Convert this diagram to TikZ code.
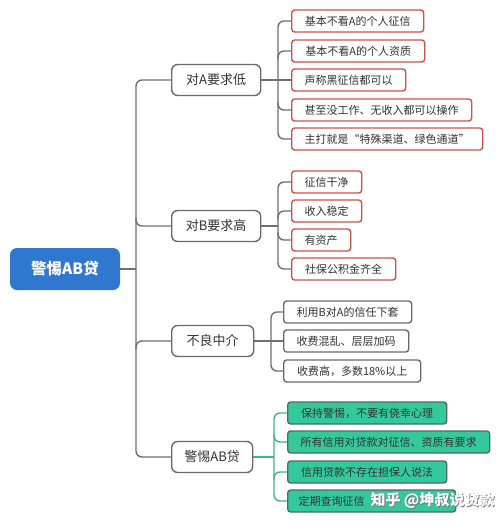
\documentclass[tikz,border=0pt]{standalone}
\usepackage{fontspec}
\setmainfont{Noto Sans CJK SC}
\usetikzlibrary{backgrounds}
\definecolor{linegrey}{HTML}{707070}
\definecolor{boxgrey}{HTML}{6A6A6A}
\definecolor{redb}{HTML}{C9524C}
\definecolor{greenf}{HTML}{34C99C}
\definecolor{greend}{HTML}{4F6A60}
\definecolor{greenl}{HTML}{3DB58C}
\definecolor{rootblue}{HTML}{2F77CF}
\definecolor{txt}{HTML}{333333}
\tikzset{
  conn/.style={draw=linegrey, line width=1.4pt, rounded corners=6pt},
  gconn/.style={draw=greenl, line width=1.4pt, rounded corners=6pt},
  rootbox/.style={fill=rootblue, rounded corners=7pt, minimum width=110pt, minimum height=42pt, inner sep=0pt, text=white, font=\fontsize{15.5}{18}\selectfont\bfseries},
  ltwo/.style={draw=boxgrey, fill=white, line width=1.4pt, rounded corners=6pt, minimum height=31pt, inner sep=0pt, anchor=west, text=txt, font=\fontsize{13}{15}\selectfont},
  lthree/.style={line width=1.4pt, rounded corners=3pt, minimum height=22pt, inner sep=0pt, anchor=west, text=txt, font=\fontsize{11}{13}\selectfont},
  redbox/.style={lthree, draw=redb, fill=white},
  greybox/.style={lthree, draw=boxgrey, fill=white},
  greenbox/.style={lthree, draw=greend, fill=greenf},
}
\begin{document}
\begin{tikzpicture}[x=1pt,y=-1pt]
\useasboundingbox (0,0) rectangle (500,523);

% root and trunk
\node[rootbox] (root) at (65,269) {警惕AB贷};
\coordinate (tr) at (136,269);

% level 2
\node[ltwo, minimum width=89pt] (A) at (171,80) {对A要求低};
\node[ltwo, minimum width=89pt] (B) at (171,226) {对B要求高};
\node[ltwo, minimum width=82pt] (C) at (171,341) {不良中介};
\node[ltwo, minimum width=81pt] (D) at (171,457) {警惕AB贷};

% group A
\node[redbox, minimum width=132pt] (a1) at (291,21) {基本不看A的个人征信};
\node[redbox, minimum width=133pt] (a2) at (291,51) {基本不看A的个人资质};
\node[redbox, minimum width=114pt] (a3) at (291,80) {声称黑征信都可以};
\node[redbox, minimum width=180pt] (a4) at (291,110) {甚至没工作、无收入都可以操作};
\node[redbox, minimum width=191pt] (a5) at (291,139) {主打就是“特殊渠道、绿色通道”};

% group B
\node[redbox, minimum width=70pt] (b1) at (291,182) {征信干净};
\node[redbox, minimum width=70pt] (b2) at (291,211) {收入稳定};
\node[redbox, minimum width=59pt] (b3) at (291,240) {有资产};
\node[redbox, minimum width=104pt] (b4) at (291,269) {社保公积金齐全};

% group C
\node[greybox, minimum width=128pt] (c1) at (283,312) {利用B对A的信任下套};
\node[greybox, minimum width=125pt] (c2) at (283,341) {收费混乱、层层加码};
\node[greybox, minimum width=137pt] (c3) at (283,371) {收费高，多数18\%以上};

% group D
\node[greenbox, minimum width=159pt] (d1) at (287,413) {保持警惕，不要有侥幸心理};
\node[greenbox, minimum width=202pt] (d2) at (287,442) {所有信用对贷款对征信、资质有要求};
\node[greenbox, minimum width=159pt] (d3) at (287,472) {信用贷款不存在担保人说法};
\node[greenbox, text width=146pt, inner xsep=11pt, align=left] (d4) at (287,501) {定期查询征信};

\begin{scope}[on background layer]
\fill[white] (0,0) rectangle (500,523);
% trunk connectors
\draw[conn] (root.east) -- (tr);
\draw[conn] (A.west) -| (tr) |- (D.west);
\draw[conn] (136,218) |- (B.west);
\draw[conn] (136,349) |- (C.west);

% group A connectors
\coordinate (ja) at (278,80);
\draw[conn] (A.east) -- (a3.west);
\draw[conn] (a1.west) -| (ja) |- (a5.west);
\draw[conn] (278,59) |- (a2.west);
\draw[conn] (278,102) |- (a4.west);

% group B connectors
\coordinate (jb) at (278,226);
\draw[conn] (B.east) -- (jb);
\draw[conn] (b1.west) -| (jb) |- (b4.west);
\draw[conn] (278,219) |- (b2.west);
\draw[conn] (278,232) |- (b3.west);

% group C connectors
\coordinate (jc) at (271,341);
\draw[conn] (C.east) -- (c2.west);
\draw[conn] (c1.west) -| (jc) |- (c3.west);

% group D connectors
\coordinate (jd) at (274,457);
\draw[gconn] (D.east) -- (jd);
\draw[gconn] (d1.west) -| (jd) |- (d4.west);
\draw[gconn] (274,434) |- (d2.west);
\draw[gconn] (274,480) |- (d3.west);
\end{scope}

% watermark
\node[anchor=west, text=black!55, font=\fontsize{15}{17}\selectfont\bfseries] (wm0) at (367.8,501.8) {知乎 @坤叔说贷款};
\node[anchor=west, text=white, font=\fontsize{15}{17}\selectfont\bfseries] (wm) at (367,501) {知乎 @坤叔说贷款};
\end{tikzpicture}
\end{document}
